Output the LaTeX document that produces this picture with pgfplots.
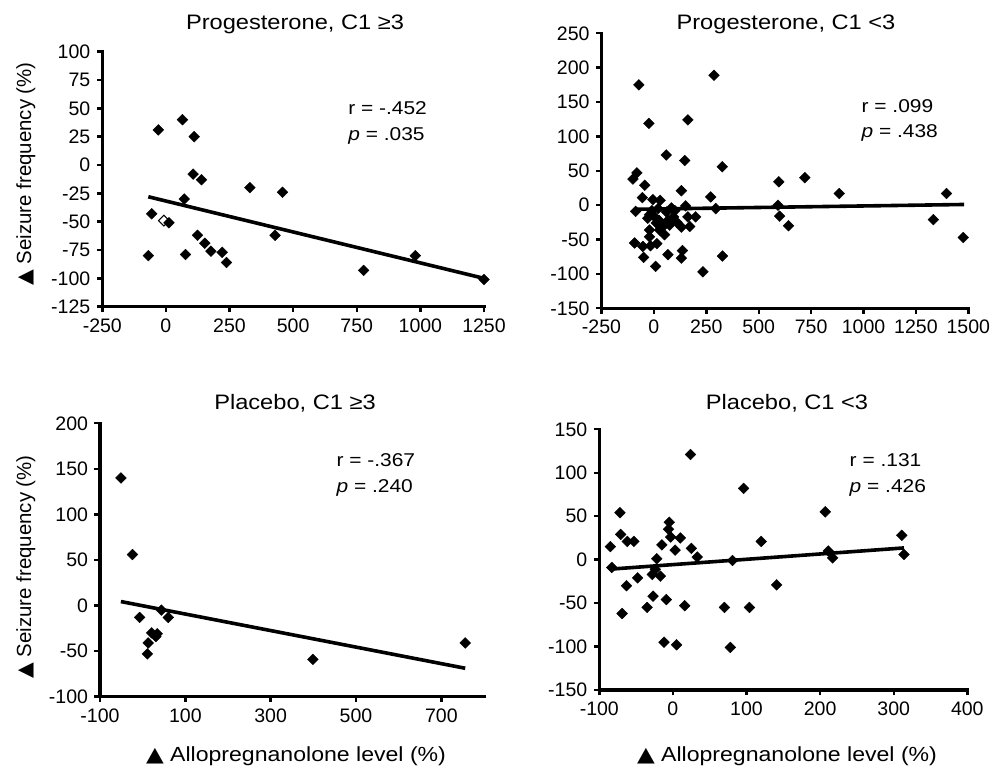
\documentclass[border=0pt]{standalone}
\usepackage{fontspec}
\setmainfont{Liberation Sans}
\newfontfamily\dejavu{DejaVu Sans}
\usepackage{graphicx}
\usepackage{pgfplots}
\pgfplotsset{compat=1.18}

% text sizes (1px of the reference = 1bp); horizontal text is a bit wide
\newcommand\wide[1]{\scalebox{1.13}[1]{#1}}
\newcommand\ttlfont{\fontsize{21}{24}\selectfont}
\newcommand\statfont{\fontsize{18.6}{22}\selectfont}
\newcommand\labfont{\fontsize{20.5}{24}\selectfont}
\newcommand\tri{{\dejavu ▲}}

\pgfplotsset{
  panel/.style={
    scale only axis, anchor=south west,
    axis lines=left,
    axis line style={-, line width=3.2bp, line cap=rect},
    tick align=outside,
    major tick length=5.5bp,
    major tick style={line width=2.4bp, black},
    tick label style={font=\fontsize{19.6}{22}\selectfont},
    xticklabel style={yshift=-3bp},
    yticklabel style={xshift=-3bp},
    /pgf/number format/assume math mode=true,
    /pgf/number format/1000 sep={},
    scaled ticks=false,
    clip=false,
  },
  pts/.style={only marks, mark=square*, mark size=3.8bp,
    mark options={rotate=45, fill=black, draw=black, line width=0.4bp}},
  fit/.style={no marks, line width=3.6bp, black},
}

\begin{document}
\begin{tikzpicture}
\useasboundingbox (0,0) rectangle (1004bp,768bp);

% ---------- Progesterone, C1 >= 3 ----------
\begin{axis}[panel, at={(102.3bp,461.3bp)}, width=381.7bp, height=255bp,
  xmin=-250, xmax=1250, ymin=-125, ymax=100,
  xtick={-250,0,250,500,750,1000,1250},
  ytick={-125,-100,-75,-50,-25,0,25,50,75,100}]
\addplot[only marks, mark=square*, mark size=3.8bp,
  mark options={rotate=45, fill=white, draw=black, line width=1bp}]
  coordinates {(-8,-49)};
\addplot[pts] coordinates {
  (-30,31) (65,40) (111,25) (107,-8) (140,-13) (72,-30) (-56,-43) (12,-51)
  (-69,-80) (77,-79) (124,-62) (153,-69) (177,-76) (221,-77) (238,-86)
  (330,-20) (458,-24) (429,-62) (777,-93) (980,-80) (1250,-101)};
\addplot[fit] coordinates {(-69,-28) (1250,-100)};
\node[anchor=base west, inner sep=0, font=\statfont] at (axis cs:716,45) {\wide{r = -.452}};
\node[anchor=base west, inner sep=0, font=\statfont] at (axis cs:716,22) {\wide{\textit{p} = .035}};
\end{axis}

% ---------- Progesterone, C1 < 3 ----------
\begin{axis}[panel, at={(601.5bp,459.7bp)}, width=366.8bp, height=275bp,
  xmin=-250, xmax=1500, ymin=-150, ymax=250,
  xtick={-250,0,250,500,750,1000,1250,1500},
  ytick={-150,-100,-50,0,50,100,150,200,250}]
\addplot[pts] coordinates {
  (-72,175) (287,189) (-24,119) (162,124) (59,73) (147,65) (326,56)
  (-81,47) (-100,38) (-44,29) (131,21) (271,12) (-55,11) (-5,8) (30,7)
  (-87,-9) (83,-4) (151,-1) (295,-5) (-29,-19) (3,-17) (24,-22) (67,-22)
  (94,-17) (162,-17) (199,-17) (-21,-36) (75,-29) (131,-32) (171,-31)
  (27,-36) (51,-43) (-21,-46) (-92,-55) (-53,-60) (-16,-59) (14,-56)
  (67,-72) (136,-66) (131,-77) (-49,-76) (8,-89) (327,-74) (234,-97)
  (-21,-14) (11,-26) (43,-31) (-10,-8) (60,-10) (100,-8) (110,-25) (20,-5)
  (596,34) (720,40) (884,17) (1396,17) (592,0) (600,-16) (642,-30)
  (1333,-21) (1476,-47)};
\addplot[fit] coordinates {(-92,-6) (1480,1)};
\node[anchor=base west, inner sep=0, font=\statfont] at (axis cs:990,134.6) {\wide{r = .099}};
\node[anchor=base west, inner sep=0, font=\statfont] at (axis cs:990,98) {\wide{\textit{p} = .438}};
\end{axis}

% ---------- Placebo, C1 >= 3 ----------
\begin{axis}[panel, at={(100bp,71.3bp)}, width=384bp, height=273.4bp,
  xmin=-100, xmax=800, ymin=-100, ymax=200,
  xtick={-100,100,300,500,700},
  ytick={-100,-50,0,50,100,150,200}]
\addplot[pts] coordinates {
  (-51,140) (-24,56) (-7,-13) (21,-30) (34,-31) (31,-34) (13,-41) (11,-53)
  (44,-5) (60,-13) (399,-59) (756,-41)};
\addplot[fit] coordinates {(-51,4.4) (756,-68.8)};
\node[anchor=base west, inner sep=0, font=\statfont] at (axis cs:454,152.6) {\wide{r = -.367}};
\node[anchor=base west, inner sep=0, font=\statfont] at (axis cs:454,124) {\wide{\textit{p} = .240}};
\end{axis}

% ---------- Placebo, C1 < 3 ----------
\begin{axis}[panel, at={(599.3bp,78bp)}, width=368bp, height=260.7bp,
  xmin=-100, xmax=400, ymin=-150, ymax=150,
  xtick={-100,0,100,200,300,400},
  ytick={-150,-100,-50,0,50,100,150}]
\addplot[pts] coordinates {
  (24,121) (96,82) (-72,54) (207,55) (-85,15) (-83,-9) (-71,29) (-62,21)
  (-53,21) (-5,43) (-6,35) (-3,26) (10,25) (-15,17) (3,11) (25,13) (33,3)
  (-22,1) (-28,-17) (-17,-19) (-24,-11) (-48,-21) (-63,-30) (-27,-42)
  (-9,-46) (-35,-55) (16,-53) (-69,-62) (70,-55) (-12,-95) (5,-98)
  (78,-101) (81,-1) (104,-55) (120,21) (141,-29) (211,10) (217,2)
  (311,28) (314,6)};
\addplot[fit] coordinates {(-83,-10.8) (314,13.5)};
\node[anchor=base west, inner sep=0, font=\statfont] at (axis cs:240,107.7) {\wide{r = .131}};
\node[anchor=base west, inner sep=0, font=\statfont] at (axis cs:240,77.7) {\wide{\textit{p} = .426}};
\end{axis}

% titles
\node[anchor=base, font=\ttlfont] at (295bp,738.7bp) {\wide{Progesterone, C1 ≥3}};
\node[anchor=base, font=\ttlfont] at (786bp,738.7bp) {\wide{Progesterone, C1 <3}};
\node[anchor=base, font=\ttlfont] at (295bp,358.7bp) {\wide{Placebo, C1 ≥3}};
\node[anchor=base, font=\ttlfont] at (787bp,358.7bp) {\wide{Placebo, C1 <3}};

% axis labels
\node[anchor=base, rotate=90, font=\labfont] at (31bp,594bp) {\tri\ Seizure frequency (\%)};
\node[anchor=base, rotate=90, font=\labfont] at (31bp,201bp) {\tri\ Seizure frequency (\%)};
\node[anchor=base, font=\labfont] at (296bp,6.3bp) {\wide{\tri\ Allopregnanolone level (\%)}};
\node[anchor=base, font=\labfont] at (787bp,6.3bp) {\wide{\tri\ Allopregnanolone level (\%)}};
\end{tikzpicture}
\end{document}
